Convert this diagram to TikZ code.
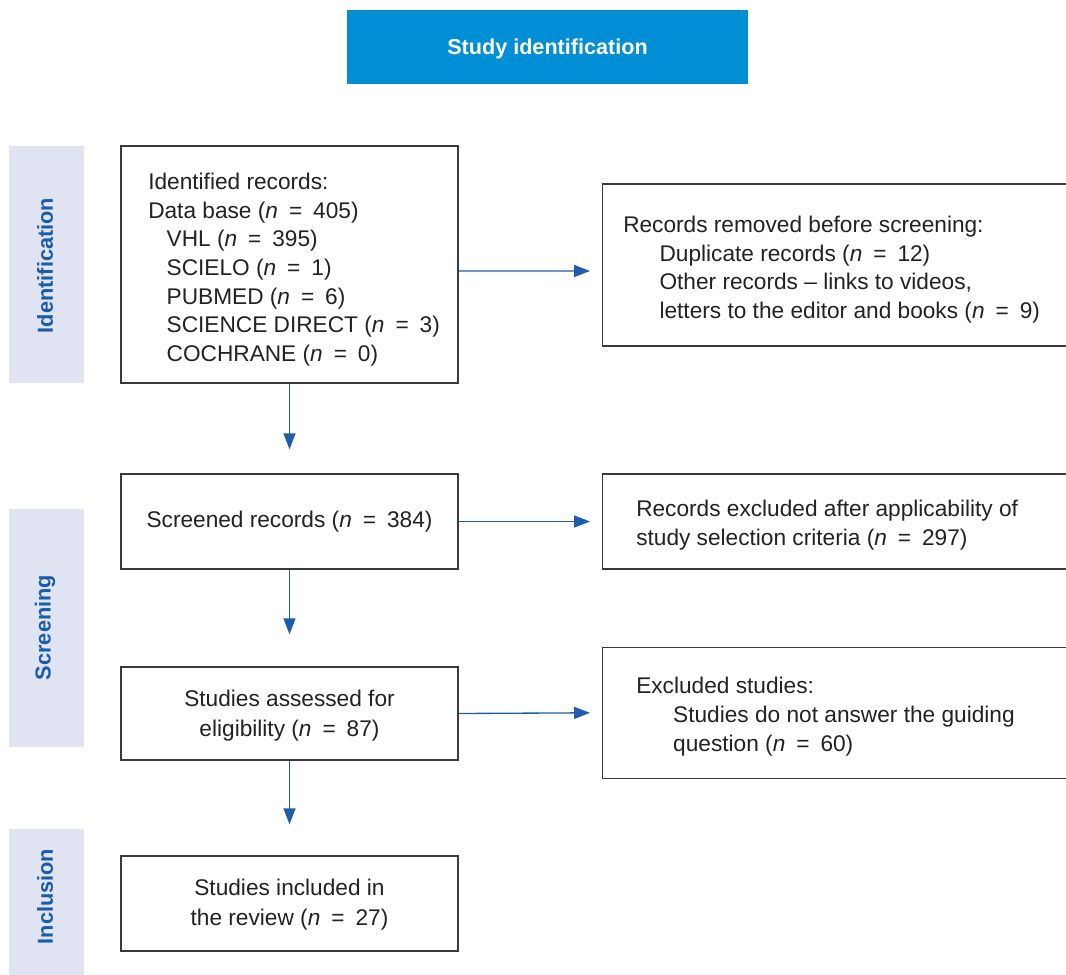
\documentclass[tikz,border=0pt]{standalone}
\usepackage{fontspec}
\setmainfont{Liberation Sans}
\usetikzlibrary{arrows.meta}
\definecolor{hdr}{HTML}{008FD5}
\definecolor{bandfill}{HTML}{DFE3F2}
\definecolor{bandtxt}{HTML}{1A5CA8}
\definecolor{arr}{HTML}{1F5DAA}
\definecolor{bord}{HTML}{3A3A3A}
\definecolor{txt}{HTML}{222222}
\newcommand{\nis}[1]{(\textit{n}\hspace{3.5pt} = \hspace{3.5pt}#1)}
\begin{document}
\begin{tikzpicture}[x=0.75pt,y=-0.75pt,
  box/.style={draw=bord, line width=1pt, inner sep=0pt},
  mainbox/.style={box, minimum width=252.75pt},
  sidebox/.style={box, anchor=west, minimum width=375pt, minimum height=#1},
  txtc/.style={text=txt, font=\fontsize{17}{21.5}\selectfont, inner sep=0pt, align=center},
  txtl/.style={text=txt, font=\fontsize{17}{21.5}\selectfont, inner sep=0pt, align=left, anchor=west},
  band/.style={fill=bandfill, draw=none, minimum width=56.25pt, inner sep=0pt},
  bandlabel/.style={rotate=90, text=bandtxt, font=\fontsize{16.3}{19}\selectfont\bfseries, inner sep=0pt},
  flow/.style={draw=arr, line width=1pt, -{Triangle[length=12pt,width=9pt]}}]
\useasboundingbox (0,0) rectangle (1066,974);
% header
\node[fill=hdr, minimum width=300.75pt, minimum height=55.5pt, inner sep=0pt] (hdr) at (547.5,47) {};
\node[text=white, font=\fontsize{16.2}{19}\selectfont\bfseries, inner sep=0pt] (hdrtxt) at (547.5,48.5) {Study identification};
% side bands
\node[band, minimum height=177.75pt] (bandI) at (46.5,264.5) {};
\node[band, minimum height=178.5pt] (bandS) at (46.5,628) {};
\node[band, minimum height=113.25pt] (bandC) at (46.5,904.5) {};
\node[bandlabel] (labI) at (45,265.5) {Identification};
\node[bandlabel] (labS) at (45,627.5) {Screening};
\node[bandlabel] (labC) at (45,896.5) {Inclusion};
% main boxes
\node[mainbox, minimum height=177.75pt] (b1) at (289.5,264.5) {};
\node[mainbox, minimum height=71.25pt] (b2) at (289.5,521.5) {};
\node[mainbox, minimum height=69.75pt] (b3) at (289.5,713.5) {};
\node[mainbox, minimum height=71.25pt] (b4) at (289.5,903.5) {};
\node[txtl] (t1) at (148,269.5)
  {Identified records:\\
   Data base \nis{405}\\
   \hspace*{13.8pt}VHL \nis{395}\\
   \hspace*{13.8pt}SCIELO \nis{1}\\
   \hspace*{13.8pt}PUBMED \nis{6}\\
   \hspace*{13.8pt}SCIENCE DIRECT \nis{3}\\
   \hspace*{13.8pt}COCHRANE \nis{0}};
\node[txtc] (t2) at (289.5,521.5) {Screened records \nis{384}};
\node[txtc, font=\fontsize{17}{22.3}\selectfont] (t3) at (289.5,715.5) {Studies assessed for\\eligibility \nis{87}};
\node[txtc, font=\fontsize{17}{22}\selectfont] (t4) at (289.5,904.5) {Studies included in\\the review \nis{27}};
% side boxes (extend past the right edge)
\node[sidebox=121.5pt] (r1) at (602,265) {};
\node[sidebox=71.25pt] (r2) at (602,521.5) {};
\node[sidebox=98.25pt] (r3) at (602,712.8) {};
\node[txtl] (s1) at (623,269.5)
  {Records removed before screening:\\
   \hspace*{27.2pt}Duplicate records \nis{12}\\
   \hspace*{27.2pt}Other records -- links to videos,\\
   \hspace*{27.2pt}letters to the editor and books \nis{9}};
\node[txtl] (s2) at (636,525)
  {Records excluded after applicability of\\
   study selection criteria \nis{297}};
\node[txtl] (s3) at (636,716.5)
  {Excluded studies:\\
   \hspace*{27.7pt}Studies do not answer the guiding\\
   \hspace*{27.7pt}question \nis{60}};
% connectors
\draw[flow] ([yshift=-4.9pt]b1.east) -- ([yshift=-4.5pt,xshift=-9pt]r1.west);
\draw[flow] (b2.east) -- ([xshift=-9pt]r2.west);
\draw[flow] (b3.east) -- ([xshift=-9pt]r3.west);
\draw[flow] (b1.south) -- ([yshift=18pt]b2.north);
\draw[flow] (b2.south) -- ([yshift=24pt]b3.north);
\draw[flow] (b3.south) -- ([yshift=23.25pt]b4.north);
\end{tikzpicture}
\end{document}
